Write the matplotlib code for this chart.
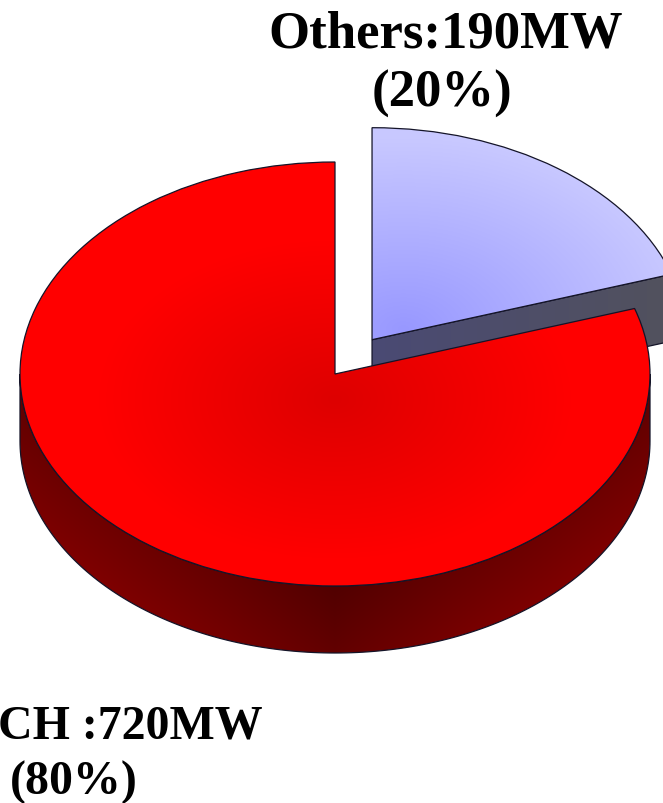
"""3D-look pie of installed capacity."""
import numpy as np
import matplotlib
matplotlib.use("Agg")
import matplotlib.pyplot as plt
from matplotlib.patches import Polygon

shares = [80, 20]
explode = [0, 0.2]
label_lines = [["CH :720MW", "(80%)"], ["Others:190MW", "(20%)"]]

W, H = 663, 804
CX, CY = 335, 375      # pie centre in pixels
RX, RY = 315, 212      # ellipse radii in pixels
DEPTH = 67 / RY


def gradient(ax, clip, func, z):
    xs = np.linspace(*XLIM, W)
    ys = np.linspace(*YLIM, H)
    xx, yy = np.meshgrid(xs, ys)
    img = ax.imshow(func(xx, yy), extent=[*XLIM, *YLIM], origin="lower", aspect="auto",
                    interpolation="bilinear", zorder=z)
    img.set_clip_path(clip)
    return img


def mix(c0, c1, t):
    c0, c1 = np.array(c0) / 255, np.array(c1) / 255
    t = np.clip(t, 0, 1)[..., None]
    return c0 * (1 - t) + c1 * t


XLIM = (-CX / RX, (W - CX) / RX)
YLIM = ((CY - H) / RY, CY / RY)

fig = plt.figure(figsize=(W / 100, H / 100), dpi=100)
ax = fig.add_axes([0, 0, 1, 1])
wedges, _ = ax.pie(shares, explode=explode, startangle=90, counterclock=True,
                   wedgeprops=dict(facecolor="none", edgecolor="#141428", linewidth=0.9))
red, blue = wedges
ax.set_aspect("auto")
ax.set_xlim(*XLIM)
ax.set_ylim(*YLIM)
ax.axis("off")

edge = dict(edgecolor="#141428", linewidth=0.9)

# blue slice: cut face then top
bx, by = blue.center
a = np.radians(blue.theta1)
rim = (bx + np.cos(a), by + np.sin(a))
face = Polygon([(bx, by), rim, (rim[0], rim[1] - DEPTH), (bx, by - DEPTH)], closed=True,
               facecolor="none", zorder=2, **edge)
ax.add_patch(face)
gradient(ax, face, lambda x, y: mix((74, 74, 116), (82, 82, 92), (x - bx) * 1.0), 1.5)
blue.set_zorder(3)
gradient(ax, blue, lambda x, y: mix((152, 152, 255), (200, 200, 255),
                                    np.hypot(x - bx - 0.1, (y - by - 0.05)) / 0.9), 2.5)

# red slice: outer wall then top
t = np.radians(np.linspace(180, 360, 181))
top = np.column_stack([np.cos(t), np.sin(t)])
wall_pts = np.vstack([top, (top - [0, DEPTH])[::-1]])
wall = Polygon(wall_pts, closed=True, facecolor="none", zorder=5, **edge)
ax.add_patch(wall)
gradient(ax, wall, lambda x, y: mix((80, 0, 0), (128, 0, 0),
                                    np.abs(x) * 1.3 + 0.35 * (-y - 0.98) / DEPTH), 4.5)
red.set_zorder(7)
gradient(ax, red, lambda x, y: mix((222, 0, 0), (255, 0, 0), np.hypot(x, y + 0.12) / 0.75), 6.5)

# labels, placed in pixels from the top left
top_text = dict(family="Liberation Serif", weight="bold", fontsize=38, ha="center", va="center",
                color="black")
low_text = dict(top_text, fontsize=34.5)
fig.text(130.5 / W, 1 - 727 / H, label_lines[0][0], **low_text)
fig.text(74 / W, 1 - 783 / H, label_lines[0][1], **low_text)
fig.text(446 / W, 1 - 35 / H, label_lines[1][0], **top_text)
fig.text(442 / W, 1 - 94 / H, label_lines[1][1], **top_text)

fig.savefig("out.png", dpi=100)
plt.close(fig)
